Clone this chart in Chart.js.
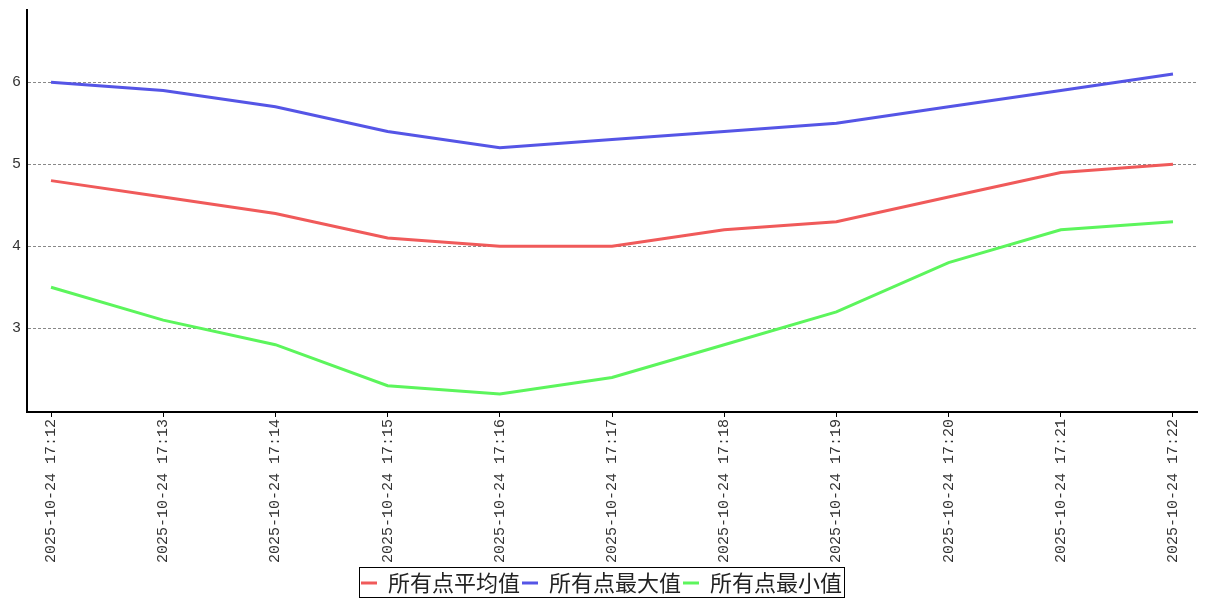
<!DOCTYPE html>
<html>
<head>
<meta charset="utf-8">
<script src="https://cdn.jsdelivr.net/npm/chart.js@4"></script>
<style>
  html, body { margin: 0; padding: 0; background: #fff; }
  #wrap { width: 1207px; height: 600px; }
</style>
</head>
<body>
<div id="wrap"><canvas id="lineChart"></canvas></div>
<script>
const times = ['2025-10-24 17:12', '2025-10-24 17:13', '2025-10-24 17:14', '2025-10-24 17:15',
    '2025-10-24 17:16', '2025-10-24 17:17', '2025-10-24 17:18', '2025-10-24 17:19',
    '2025-10-24 17:20', '2025-10-24 17:21', '2025-10-24 17:22'];
const avgValues = [4.8, 4.6, 4.4, 4.1, 4.0, 4.0, 4.2, 4.3, 4.6, 4.9, 5.0];
const maxValues = [6.0, 5.9, 5.7, 5.4, 5.2, 5.3, 5.4, 5.5, 5.7, 5.9, 6.1];
const minValues = [3.5, 3.1, 2.8, 2.3, 2.2, 2.4, 2.8, 3.2, 3.8, 4.2, 4.3];
const yTicks = [3, 4, 5, 6];
const seriesNames = ['所有点平均值', '所有点最大值', '所有点最小值'];

const toPoints = arr => arr.map((v, i) => ({ x: i, y: v }));

// legend sits a bit lower in the original, and has a box round it
const legendBox = {
    id: 'legendBox',
    afterLayout(chart) {
        chart.legend.top += 5;
        chart.legend.bottom += 5;
    },
    afterDraw(chart) {
        const boxes = chart.legend.legendHitBoxes;
        if (!boxes || !boxes.length) return;
        const left = Math.min(...boxes.map(b => b.left)) - 2;
        const right = Math.max(...boxes.map(b => b.left + b.width)) + 2;
        const top = Math.min(...boxes.map(b => b.top)) - 5;
        const bottom = Math.max(...boxes.map(b => b.top + b.height)) + 3;
        const ctx = chart.ctx;
        ctx.save();
        ctx.strokeStyle = '#000';
        ctx.lineWidth = 1;
        ctx.strokeRect(Math.round(left) + 0.5, Math.round(top) + 0.5, Math.round(right - left), Math.round(bottom - top));
        ctx.restore();
    }
};

const tickFont = { family: 'Liberation Mono', size: 15 };

new Chart(document.getElementById('lineChart').getContext('2d'), {
    type: 'line',
    data: {
        datasets: [
            { label: seriesNames[0], data: toPoints(avgValues), borderColor: '#f05a5a', backgroundColor: '#f05a5a', borderWidth: 3 },
            { label: seriesNames[1], data: toPoints(maxValues), borderColor: '#5555e6', backgroundColor: '#5555e6', borderWidth: 3 },
            { label: seriesNames[2], data: toPoints(minValues), borderColor: '#5cf55c', backgroundColor: '#5cf55c', borderWidth: 3 }
        ]
    },
    options: {
        responsive: true,
        maintainAspectRatio: false,
        animation: false,
        layout: { padding: { top: 10, right: 10, left: 6, bottom: 1 } },
        elements: {
            line: { tension: 0 },
            point: { radius: 0 }
        },
        scales: {
            x: {
                type: 'linear',
                min: -0.214,
                max: 10.214,
                afterBuildTicks: scale => { scale.ticks = times.map((t, i) => ({ value: i })); },
                ticks: {
                    autoSkip: false,
                    minRotation: 90,
                    maxRotation: 90,
                    color: '#333',
                    font: tickFont,
                    padding: 2,
                    callback: v => times[v]
                },
                grid: { drawOnChartArea: false, drawTicks: true, tickLength: 5, color: '#000' },
                border: { display: true, color: '#000', width: 2 }
            },
            y: {
                min: 1.98,
                max: 6.88,
                afterBuildTicks: scale => { scale.ticks = yTicks.map(v => ({ value: v })); },
                afterFit: scale => { scale.paddingTop = 0; scale.paddingBottom = 0; },
                ticks: { color: '#333', font: tickFont, padding: 6 },
                grid: { drawTicks: false, color: '#888', lineWidth: 1 },
                border: { display: true, color: '#000', width: 2, dash: [3, 2] }
            }
        },
        plugins: {
            legend: {
                position: 'bottom',
                labels: {
                    usePointStyle: true,
                    pointStyle: 'line',
                    pointStyleWidth: 16,
                    padding: 2,
                    color: '#222',
                    font: { family: 'Noto Sans CJK SC', size: 22 }
                }
            },
            tooltip: { enabled: false }
        }
    },
    plugins: [legendBox]
});
</script>
</body>
</html>
